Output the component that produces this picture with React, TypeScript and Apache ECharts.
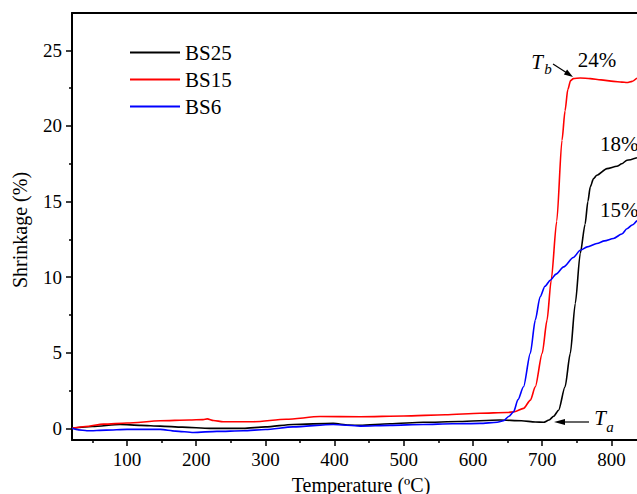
import React, { useEffect, useRef } from "react";
import * as echarts from "echarts";

// ---- Data ----
const seriesNames = ["BS25", "BS15", "BS6"];

const bs25Temp = [20.5, 50, 90, 120, 148, 180, 220, 268, 300, 340, 398, 420, 437, 480, 528, 580, 639, 670, 690, 702, 710, 716.5, 723.7, 733, 740.6, 747.8, 755, 762, 766, 769.5, 774, 779, 793.6, 808, 815, 822.5, 837];
const bs25Shrink = [0, 0.12, 0.26, 0.2, 0.15, 0.08, 0, 0, 0.1, 0.26, 0.33, 0.22, 0.2, 0.3, 0.4, 0.45, 0.55, 0.5, 0.42, 0.4, 0.55, 0.8, 1.2, 2.75, 4.96, 8.26, 11.57, 13.5, 15.0, 15.97, 16.5, 16.74, 17.18, 17.33, 17.5, 17.73, 17.9];

const bs15Temp = [20.5, 40, 66, 100, 148, 190, 210, 216, 225, 239, 283, 330, 379, 437, 500, 560, 610, 649, 660, 673, 683, 690, 700, 707, 713, 721, 728.6, 733, 737, 741, 745, 755, 769.5, 785, 803, 815, 822.5, 830, 837];
const bs15Shrink = [0, 0.12, 0.28, 0.35, 0.5, 0.55, 0.58, 0.63, 0.52, 0.44, 0.44, 0.6, 0.78, 0.77, 0.82, 0.9, 1.0, 1.05, 1.1, 1.32, 1.87, 2.75, 4.96, 7.16, 9.8, 13.7, 19.05, 21.0, 22.4, 23.0, 23.13, 23.17, 23.13, 23.05, 22.95, 22.9, 22.87, 22.95, 23.17];

const bs6Temp = [20.5, 30, 42, 70, 100, 148, 170, 196, 230, 268, 300, 340, 398, 437, 480, 528, 570, 610, 635, 644, 652, 658.7, 665, 673, 682.8, 690, 697, 704, 711.7, 720, 731, 745, 755, 765, 779, 790, 803, 815, 822.5, 830, 837];
const bs6Shrink = [0, -0.1, -0.16, -0.12, -0.07, -0.07, -0.18, -0.27, -0.2, -0.16, -0.08, 0.1, 0.26, 0.15, 0.2, 0.26, 0.3, 0.33, 0.4, 0.5, 0.8, 1.1, 1.9, 2.75, 4.96, 7.16, 8.7, 9.4, 9.8, 10.2, 10.68, 11.3, 11.78, 12.0, 12.23, 12.4, 12.56, 12.85, 13.2, 13.45, 13.75];

const xMajorTicks = [100, 200, 300, 400, 500, 600, 700, 800];
const xMinorTicks = [50, 150, 250, 350, 450, 550, 650, 750];
const yMajorTicks = [0, 5, 10, 15, 20, 25];
const yMinorTicks = [2.5, 7.5, 12.5, 17.5, 22.5];

const FONT = "Liberation Serif";

const zip = (xs: number[], ys: number[]) => xs.map((x, i) => [x, ys[i]]);

export default function App() {
  const ref = useRef<HTMLDivElement>(null);

  useEffect(() => {
    if (!ref.current) return;
    const chart = echarts.init(ref.current, undefined, { renderer: "svg" });
    const xMin = 20.5;
    const xMax = 837;
    const yMin = -0.77;
    const yMax = 27.47;

    const lineSeries = (name: string, data: number[][], color: string) => ({
      name,
      type: "line",
      data,
      xAxisIndex: 0,
      yAxisIndex: 0,
      symbol: "none",
      showSymbol: false,
      smooth: 0.25,
      smoothMonotone: "x",
      lineStyle: { color, width: 1.6 },
      itemStyle: { color },
    });

    chart.setOption({
      animation: false,
      backgroundColor: "#ffffff",
      grid: { left: 72, right: 0, top: 13, bottom: 54, containLabel: false },
      legend: {
        data: seriesNames,
        orient: "vertical",
        left: 125,
        top: 37,
        icon: "rect",
        itemWidth: 50,
        itemHeight: 2,
        itemGap: 6,
        textStyle: { fontFamily: FONT, fontSize: 21, color: "#000", lineHeight: 21 },
      },
      xAxis: [
        {
          type: "value",
          min: xMin,
          max: xMax,
          position: "bottom",
          axisLine: { show: true, onZero: false, lineStyle: { color: "#000", width: 2 } },
          axisTick: { show: true, customValues: xMajorTicks, length: 6, lineStyle: { color: "#000", width: 1.5 } },
          axisLabel: { show: true, customValues: xMajorTicks, fontFamily: FONT, fontSize: 19, color: "#000", margin: 10 },
          splitLine: { show: false },
        },
        {
          type: "value",
          min: xMin,
          max: xMax,
          position: "bottom",
          axisLine: { show: false, onZero: false },
          axisTick: { show: true, customValues: xMinorTicks, length: 3, lineStyle: { color: "#000", width: 1.5 } },
          axisLabel: { show: false },
          splitLine: { show: false },
        },
        {
          type: "value",
          min: xMin,
          max: xMax,
          position: "top",
          axisLine: { show: true, onZero: false, lineStyle: { color: "#000", width: 2 } },
          axisTick: { show: false },
          axisLabel: { show: false },
          splitLine: { show: false },
        },
      ],
      yAxis: [
        {
          type: "value",
          min: yMin,
          max: yMax,
          position: "left",
          axisLine: { show: true, onZero: false, lineStyle: { color: "#000", width: 2 } },
          axisTick: { show: true, customValues: yMajorTicks, length: 6, lineStyle: { color: "#000", width: 1.5 } },
          axisLabel: { show: true, customValues: yMajorTicks, fontFamily: FONT, fontSize: 19, color: "#000", margin: 10 },
          splitLine: { show: false },
        },
        {
          type: "value",
          min: yMin,
          max: yMax,
          position: "left",
          axisLine: { show: false, onZero: false },
          axisTick: { show: true, customValues: yMinorTicks, length: 3, lineStyle: { color: "#000", width: 1.5 } },
          axisLabel: { show: false },
          splitLine: { show: false },
        },
      ],
      series: [
        lineSeries("BS25", zip(bs25Temp, bs25Shrink), "#000000"),
        lineSeries("BS15", zip(bs15Temp, bs15Shrink), "#ff0000"),
        lineSeries("BS6", zip(bs6Temp, bs6Shrink), "#0000ff"),
      ],
      graphic: [
        {
          type: "text",
          x: 361,
          y: 485,
          style: { text: "Temperature (ºC)", font: `20px ${FONT}`, fill: "#000", textAlign: "center", textVerticalAlign: "middle" },
        },
        {
          type: "text",
          x: 20,
          y: 230,
          rotation: Math.PI / 2,
          style: { text: "Shrinkage (%)", font: `20px ${FONT}`, fill: "#000", textAlign: "center", textVerticalAlign: "middle" },
        },
        // Tb annotation
        { type: "text", x: 537, y: 62, style: { text: "T", font: `italic 21px ${FONT}`, fill: "#000", textAlign: "center", textVerticalAlign: "middle" } },
        { type: "text", x: 548, y: 69, style: { text: "b", font: `italic 15px ${FONT}`, fill: "#000", textAlign: "center", textVerticalAlign: "middle" } },
        { type: "line", shape: { x1: 553, y1: 64, x2: 567, y2: 73 }, style: { stroke: "#000", lineWidth: 1.2 } },
        { type: "polygon", shape: { points: [[573, 77], [563.9, 74.6], [567.1, 69.6]] }, style: { fill: "#000" } },
        { type: "text", x: 597, y: 60, style: { text: "24%", font: `21px ${FONT}`, fill: "#000", textAlign: "center", textVerticalAlign: "middle" } },
        { type: "text", x: 600, y: 144, style: { text: "18%", font: `21px ${FONT}`, fill: "#000", textAlign: "left", textVerticalAlign: "middle" } },
        { type: "text", x: 600, y: 210, style: { text: "15%", font: `21px ${FONT}`, fill: "#000", textAlign: "left", textVerticalAlign: "middle" } },
        // Ta annotation
        { type: "line", shape: { x1: 589, y1: 422, x2: 562, y2: 422 }, style: { stroke: "#000", lineWidth: 1.2 } },
        { type: "polygon", shape: { points: [[554, 422], [565, 419], [565, 425]] }, style: { fill: "#000" } },
        { type: "text", x: 600, y: 418, style: { text: "T", font: `italic 21px ${FONT}`, fill: "#000", textAlign: "center", textVerticalAlign: "middle" } },
        { type: "text", x: 610, y: 427, style: { text: "a", font: `italic 15px ${FONT}`, fill: "#000", textAlign: "center", textVerticalAlign: "middle" } },
      ],
    });

    return () => chart.dispose();
  }, []);

  return <div ref={ref} style={{ position: "absolute", left: 0, top: 0, width: 637, height: 494 }} />;
}
